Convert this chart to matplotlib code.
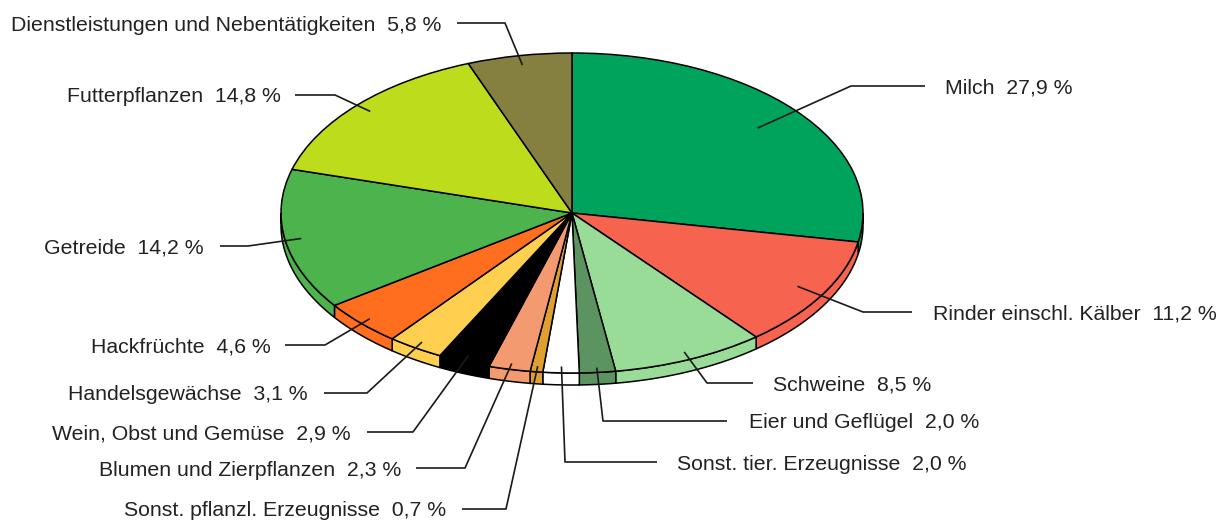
import numpy as np
import matplotlib
matplotlib.use("Agg")
import matplotlib.pyplot as plt
from matplotlib.patches import Polygon

# data
labels = ["Milch", "Rinder einschl. Kälber", "Schweine", "Eier und Geflügel",
          "Sonst. tier. Erzeugnisse", "Sonst. pflanzl. Erzeugnisse",
          "Blumen und Zierpflanzen", "Wein, Obst und Gemüse", "Handelsgewächse",
          "Hackfrüchte", "Getreide", "Futterpflanzen",
          "Dienstleistungen und Nebentätigkeiten"]
values = [27.9, 11.2, 8.5, 2.0, 2.0, 0.7, 2.3, 2.9, 3.1, 4.6, 14.2, 14.8, 5.8]
colors = ["#00a35c", "#f66450", "#98dc98", "#5b9461", "#ffffff", "#e0a030",
          "#f39a70", "#000000", "#ffd050", "#ff6e1e", "#4db34d", "#bcdc1c",
          "#857f40"]

# layout (pixel coordinates of the 1221x521 canvas)
W, H = 1221, 521
cx, cy = 572, 213
rx, ry = 291, 160
depth = 12
k = rx / ry

anchor_r = [0.83, 0.90, 0.95, 0.97, 0.96, 0.964, 0.963, 0.96, 0.957, 0.959, 0.944, 0.94, 0.94]
elbow = [(851, 86), (863, 312), (707, 383), (603, 421), (565, 462), (506, 509),
         (465, 468), (413, 432), (367, 393), (325, 345), (248, 246), (335, 95), (505, 23)]
line_end = [925, 912, 753, 727, 657, 462, 416, 367, 324, 285, 220, 295, 457]
text_x = [945, 933, 773, 749, 677, 446, 401, 351, 308, 271, 204, 281, 441]
right_side = [True] * 5 + [False] * 8


def py(y):
    return (H - y) * k


fig = plt.figure(figsize=(W / 100, H / 100), dpi=100)
ax = fig.add_axes([0, 0, 1, 1])

wedges, _ = ax.pie(values, colors=colors, startangle=90, counterclock=False,
                   center=(cx, py(cy)), radius=rx,
                   wedgeprops=dict(edgecolor="black", linewidth=1.1, zorder=2))

# side walls for the front half
for w, c in zip(wedges, colors):
    t1, t2 = w.theta1, w.theta2
    for n in range(-2, 3):
        a = max(t1, 180 + 360 * n)
        b = min(t2, 360 + 360 * n)
        if b <= a:
            continue
        t = np.radians(np.linspace(a, b, 60))
        xs = cx + rx * np.cos(t)
        ys = py(cy) + rx * np.sin(t)
        pts = np.column_stack([np.r_[xs, xs[::-1]],
                               np.r_[ys, ys[::-1] - depth * k]])
        ax.add_patch(Polygon(pts, closed=True, facecolor=c, edgecolor="black",
                             linewidth=1.1, zorder=1))

# leader lines and labels
for i, w in enumerate(wedges):
    mid = np.radians((w.theta1 + w.theta2) / 2)
    ax_ = cx + anchor_r[i] * rx * np.cos(mid)
    ay_ = py(cy) + anchor_r[i] * rx * np.sin(mid)
    ex, ey = elbow[i]
    ax.plot([ax_, ex, line_end[i]], [ay_, py(ey), py(ey)], color="#1a1a1a",
            linewidth=1.2, zorder=3, solid_capstyle="butt")
    pct = f"{values[i]:.1f}".replace(".", ",")
    txt = f"{labels[i]}  {pct} %"
    ax.text(text_x[i], py(ey + 2), txt, ha="left" if right_side[i] else "right",
            va="center", fontsize=15.3, color="#222222",
            family=["Liberation Sans", "DejaVu Sans"])

ax.set_aspect("auto")
ax.set_xlim(0, W)
ax.set_ylim(0, H * k)
ax.set_axis_off()
fig.savefig("out.png", dpi=100, facecolor="white")
